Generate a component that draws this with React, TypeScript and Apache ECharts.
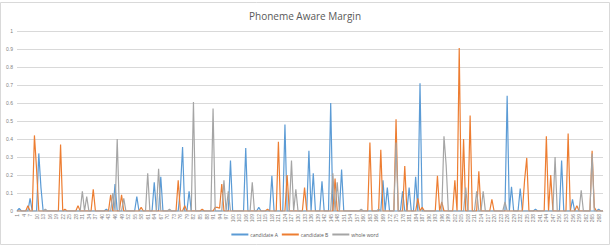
import React, { useEffect, useRef } from "react";
import * as echarts from "echarts";

const seriesNames = ["candidate A", "candidate B", "whole word"];

const blueValues = [
  0,0.015,0,0,0,0,0.07,0,0,0, 0.32,0.13,0,0,0,0,0,0,0,0, 0,0,0,0,0,0,0,0,0,0,
  0,0,0,0,0,0,0,0,0,0, 0,0.01,0,0,0,0.15,0,0,0,0, 0,0,0,0,0,0.08,0,0,0,0,
  0,0,0,0.16,0,0,0.19,0,0,0, 0,0,0,0,0,0.12,0.355,0,0,0.11, 0,0,0,0,0,0,0,0,0,0,
  0,0,0,0,0,0,0,0,0.28,0, 0,0,0,0,0,0.35,0,0,0,0, 0,0.02,0,0,0,0,0,0.195,0,0,
  0,0,0,0.48,0,0,0,0,0,0, 0,0,0,0,0.335,0,0.21,0,0,0, 0.165,0,0,0,0.6,0,0,0,0,0.23,
  0,0,0,0,0,0,0,0,0,0, 0,0,0,0,0,0,0,0,0.17,0, 0.13,0,0,0,0,0,0,0.11,0,0,
  0.13,0,0,0.19,0,0.71,0,0,0,0, 0,0,0,0,0,0,0,0,0,0, 0,0,0,0,0,0,0,0,0,0,
  0,0,0,0,0,0,0,0,0,0, 0,0,0,0,0,0.64,0,0.135,0,0, 0,0.125,0,0,0,0,0,0,0.01,0,
  0,0,0,0,0,0,0,0,0,0, 0.28,0,0,0,0,0.065,0,0,0,0, 0,0,0,0,0,0,0,0.01,0,0,
];

const orangeValues = [
  0,0,0,0,0,0.03,0,0,0.42,0.23, 0,0,0,0,0,0,0,0,0,0, 0.37,0,0.01,0,0,0,0,0,0.03,0,
  0,0,0,0,0,0.12,0,0,0,0, 0,0,0,0.09,0,0,0,0,0.09,0, 0,0,0,0,0,0,0,0.02,0,0,
  0,0,0,0,0,0,0,0,0,0, 0,0,0,0,0.17,0,0,0.03,0,0, 0,0,0,0,0,0.01,0,0,0,0,
  0,0.02,0.02,0.015,0.15,0,0,0,0,0, 0,0,0,0,0,0,0,0,0,0, 0,0,0,0,0,0.01,0,0,0,0,
  0.385,0,0,0,0.2,0,0,0,0,0, 0,0,0.13,0,0,0,0,0,0,0, 0,0,0,0,0,0,0.18,0,0,0,
  0,0,0,0,0,0,0,0,0,0, 0,0,0.38,0,0,0,0,0.34,0,0, 0,0,0,0,0.51,0,0,0,0.25,0,
  0,0,0,0,0.07,0,0.02,0,0,0, 0,0,0,0.195,0,0.05,0,0,0,0, 0,0.17,0,0.905,0,0.4,0,0,0.53,0,
  0,0,0.22,0,0,0,0,0,0.065,0, 0,0,0,0,0,0,0,0,0,0, 0,0,0,0.17,0.295,0,0,0,0,0,
  0,0,0,0.415,0,0.2,0,0,0,0, 0,0,0,0.43,0,0,0,0.03,0,0, 0,0,0,0,0.335,0.02,0,0,0,0,
];

const grayValues = [
  0,0,0,0,0,0,0,0,0,0, 0,0,0,0.01,0,0,0,0,0,0, 0,0,0,0,0,0,0,0,0,0,
  0.11,0,0.08,0,0,0,0,0,0,0, 0,0,0,0,0.1,0,0.4,0,0,0.07, 0,0,0,0,0,0,0,0,0,0,
  0.21,0,0,0,0,0.235,0,0,0,0, 0.01,0,0,0,0,0,0,0,0,0, 0,0.605,0,0,0,0,0,0,0,0,
  0.57,0,0,0,0,0.17,0,0.11,0,0, 0,0,0,0,0,0,0,0,0.16,0, 0,0,0,0,0,0,0,0,0,0,
  0,0,0,0,0,0,0.28,0,0.12,0, 0,0,0,0,0,0,0,0,0,0, 0,0,0,0,0,0.21,0,0.16,0,0,
  0,0,0,0,0,0,0,0,0.01,0, 0,0,0,0,0,0,0.01,0,0,0, 0,0,0,0,0.38,0,0,0,0,0,
  0,0,0,0,0,0,0,0,0,0, 0,0,0,0,0,0,0.415,0.255,0,0, 0,0,0,0,0,0,0.13,0,0,0,
  0,0.11,0,0,0.11,0,0,0,0,0, 0,0,0,0,0.05,0,0,0,0,0, 0,0,0,0,0,0,0,0,0,0,
  0,0,0,0,0,0,0,0.3,0,0, 0,0,0,0,0,0,0,0,0,0.115, 0,0,0,0,0.32,0,0,0,0,0,
];

const categories = blueValues.map((_, i) => String(i + 1));
const colors = ["#5B9BD5", "#ED7D31", "#A5A5A5"];
const allValues = [blueValues, orangeValues, grayValues];

export default function App() {
  const ref = useRef<HTMLDivElement>(null);
  useEffect(() => {
    if (!ref.current) return;
    const chart = echarts.init(ref.current, null, { renderer: "svg" });
    chart.setOption({
      animation: false,
      backgroundColor: "#ffffff",
      title: {
        text: "Phoneme Aware Margin",
        left: "center",
        top: 6,
        textStyle: { fontFamily: "Open Sans", fontSize: 10, fontWeight: "normal", color: "#595959" },
      },
      legend: {
        bottom: 4,
        left: "center",
        itemWidth: 17,
        itemHeight: 2,
        itemGap: 4,
        icon: "rect",
        textStyle: { fontSize: 5, color: "#595959", fontFamily: "Open Sans", padding: [0, 0, 0, -3] },
        data: seriesNames,
      },
      grid: { left: 17, right: 7, top: 31, bottom: 35, containLabel: false },
      xAxis: {
        type: "category",
        data: categories,
        boundaryGap: false,
        axisLine: { lineStyle: { color: "#d9d9d9" } },
        axisTick: { show: false },
        axisLabel: { interval: 2, rotate: 90, fontSize: 5, color: "#7f7f7f", margin: 3 },
      },
      yAxis: {
        type: "value",
        min: 0,
        max: 1,
        interval: 0.1,
        axisLine: { show: false },
        axisTick: { show: false },
        axisLabel: { fontSize: 5, color: "#7f7f7f", margin: 4 },
        splitLine: { lineStyle: { color: "#d9d9d9", width: 1 } },
      },
      graphic: [
        {
          type: "rect",
          shape: { x: 0.5, y: 2.5, width: 609, height: 242 },
          style: { fill: "none", stroke: "#d9d9d9", lineWidth: 1 },
          silent: true,
          z: -1,
        },
      ],
      series: seriesNames.map((name, k) => ({
        name,
        type: "line",
        data: allValues[k],
        showSymbol: false,
        symbol: "none",
        lineStyle: { color: colors[k], width: 1.2 },
        itemStyle: { color: colors[k] },
      })),
    });
    return () => chart.dispose();
  }, []);
  return <div ref={ref} style={{ position: "fixed", left: 0, top: 0, width: 610, height: 246 }} />;
}
